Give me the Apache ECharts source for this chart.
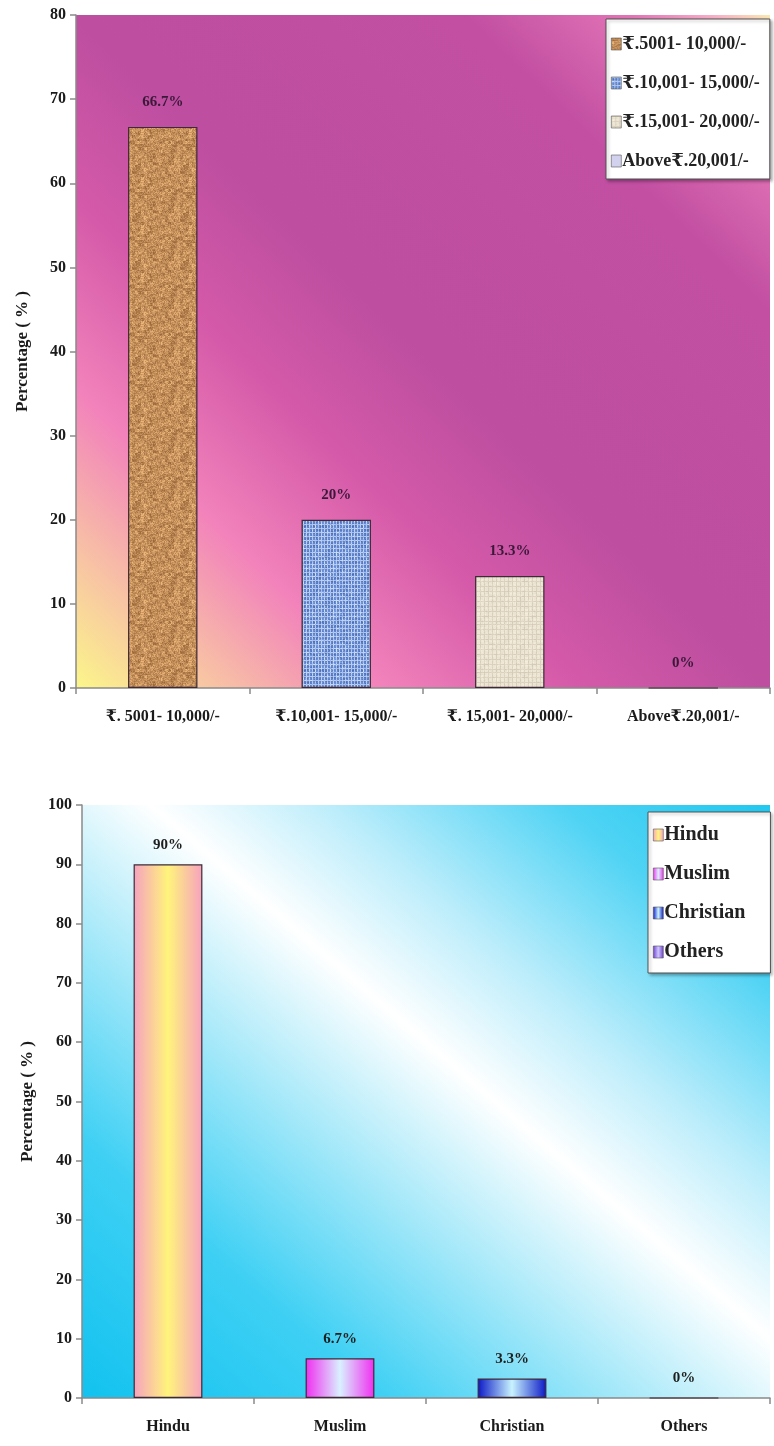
<!DOCTYPE html>
<html>
<head>
<meta charset="utf-8">
<script src="https://cdn.jsdelivr.net/npm/echarts@6/dist/echarts.min.js"></script>
<style>
  html, body { margin: 0; padding: 0; background: #ffffff; }
  #chart { width: 774px; height: 1446px; }
</style>
</head>
<body>
<div id="chart"></div>
<script>
// Monthly family income distribution
const incomeCategories = ['₹. 5001- 10,000/-', '₹.10,001- 15,000/-', '₹. 15,001- 20,000/-', 'Above₹.20,001/-'];
const incomeLegendNames = ['₹.5001- 10,000/-', '₹.10,001- 15,000/-', '₹.15,001- 20,000/-', 'Above₹.20,001/-'];
const incomeShares = [66.7, 20, 13.3, 0];

// Religion distribution
const religionCategories = ['Hindu', 'Muslim', 'Christian', 'Others'];
const religionShares = [90, 6.7, 3.3, 0];

const SERIF = "'Liberation Serif', 'DejaVu Serif', serif";

// deterministic hash used for the bar surface textures
function hash(x, y, s) {
  const v = Math.sin(x * 12.9898 + y * 78.233 + s * 37.719) * 43758.5453;
  return v - Math.floor(v);
}

function makeTexture(kind) {
  const size = 48;
  const c = document.createElement('canvas');
  c.width = size; c.height = size;
  const ctx = c.getContext('2d');
  const img = ctx.createImageData(size, size);
  for (let y = 0; y < size; y++) {
    for (let x = 0; x < size; x++) {
      let r, g, b;
      const n1 = hash(x, y, 1);
      const n2 = hash(Math.floor(x / 3), Math.floor(y / 3), 2);
      if (kind === 'granite') {
        const t = 0.55 * n1 + 0.45 * n2;
        r = 150 + t * 90; g = 100 + t * 85; b = 55 + t * 70;
      } else if (kind === 'denim') {
        const line = (x % 3 === 0) || (y % 4 === 0);
        const t = 0.6 * n1 + 0.4 * n2;
        if (line) { r = 150 + t * 60; g = 175 + t * 50; b = 225 + t * 25; }
        else { r = 72 + t * 50; g = 108 + t * 50; b = 182 + t * 45; }
      } else {
        const line = (x % 4 === 0) || (y % 5 === 0);
        const t = n1 * 0.5 + n2 * 0.5;
        if (line) { r = 208 + t * 20; g = 199 + t * 20; b = 181 + t * 20; }
        else { r = 230 + t * 16; g = 222 + t * 16; b = 204 + t * 16; }
      }
      const i = (y * size + x) * 4;
      img.data[i] = r; img.data[i + 1] = g; img.data[i + 2] = b; img.data[i + 3] = 255;
    }
  }
  ctx.putImageData(img, 0, 0);
  return c;
}

function hGrad(edge, mid) {
  return new echarts.graphic.LinearGradient(0, 0, 1, 0, [
    { offset: 0, color: edge }, { offset: 0.5, color: mid }, { offset: 1, color: edge }
  ]);
}

const incomeFills = [
  { image: makeTexture('granite'), repeat: 'repeat' },
  { image: makeTexture('denim'), repeat: 'repeat' },
  { image: makeTexture('linen'), repeat: 'repeat' },
  '#d2d2ee'
];
const religionFills = [
  hGrad('#f6a2bf', '#fff47c'),
  hGrad('#f02ef0', '#d9f1ff'),
  hGrad('#0a18c6', '#c9f3ff'),
  hGrad('#6a3ccf', '#cfc6ff')
];

const grids = [
  { left: 76, top: 15, width: 694, height: 673 },
  { left: 82, top: 805, width: 688, height: 593 }
];

// gradient whose bands run parallel to the top-left / bottom-right diagonal
function diagGradient(g, stops) {
  const W = g.width, H = g.height, L2 = W * W + H * H;
  const dx = H * H / L2, dy = W * W / L2;
  return {
    type: 'linear', x: 0.5 - dx, y: 0.5 + dy, x2: 0.5 + dx, y2: 0.5 - dy,
    colorStops: stops
  };
}

const incomeBg = diagGradient(grids[0], [
  { offset: 0, color: '#fbf68a' },
  { offset: 0.1, color: '#f8c4a4' },
  { offset: 0.22, color: '#f283bb' },
  { offset: 0.36, color: '#d55aa9' },
  { offset: 0.5, color: '#bd4ea0' },
  { offset: 0.78, color: '#c24fa2' },
  { offset: 0.9, color: '#e274b6' },
  { offset: 0.96, color: '#f6b0c6' },
  { offset: 1, color: '#fbe8b0' }
]);
const religionBg = diagGradient(grids[1], [
  { offset: 0, color: '#12c2ef' },
  { offset: 0.22, color: '#3fd0f4' },
  { offset: 0.42, color: '#b4ecfa' },
  { offset: 0.55, color: '#ffffff' },
  { offset: 0.68, color: '#bcedfb' },
  { offset: 0.85, color: '#4fd3f4' },
  { offset: 1, color: '#20c8f0' }
]);

const axisLineStyle = { color: '#8a8a8a', width: 1.5 };
const tickLabel = { fontFamily: SERIF, fontWeight: 'bold', fontSize: 16, color: '#1a1a1a' };

function barSeries(names, values, fills, axisIndex, labelColor, labelGap) {
  return names.map((name, k) => ({
    type: 'bar',
    name: name,
    xAxisIndex: axisIndex,
    yAxisIndex: axisIndex,
    barWidth: '40%',
    barGap: '-100%',
    data: values.map((v, i) => (i === k ? v : '-')),
    itemStyle: { color: fills[k], borderColor: '#3d2a36', borderWidth: 1.2 },
    label: {
      show: true, position: 'top', distance: labelGap,
      formatter: '{c}%',
      fontFamily: SERIF, fontWeight: 'bold', fontSize: 15, color: labelColor
    }
  }));
}

function legendBox(names, pos, padding, fontSize, gap) {
  return Object.assign({
    orient: 'vertical',
    data: names,
    icon: 'rect',
    itemWidth: 10,
    itemHeight: 12,
    itemGap: gap,
    backgroundColor: '#ffffff',
    borderColor: '#505050',
    borderWidth: 1,
    padding: padding,
    shadowColor: 'rgba(0,0,0,0.3)',
    shadowBlur: 3,
    shadowOffsetX: 2,
    shadowOffsetY: 2,
    itemStyle: { borderColor: '#555', borderWidth: 0.6 },
    textStyle: { fontFamily: SERIF, fontWeight: 'bold', fontSize: fontSize, color: '#222', padding: [0, 0, 0, -4] }
  }, pos);
}

const chart = echarts.init(document.getElementById('chart'), null, { renderer: 'canvas' });
chart.setOption({
  animation: false,
  backgroundColor: '#ffffff',
  grid: [
    Object.assign({ show: true, borderWidth: 0, backgroundColor: incomeBg }, grids[0]),
    Object.assign({ show: true, borderWidth: 0, backgroundColor: religionBg }, grids[1])
  ],
  legend: [
    legendBox(incomeLegendNames, { left: 606, top: 19 }, [16, 10, 9, 5], 18, 21),
    legendBox(religionCategories, { left: 648, top: 812 }, [13, 25, 11, 5], 20, 19)
  ],
  xAxis: [
    {
      type: 'category', gridIndex: 0, data: incomeCategories,
      axisLine: { lineStyle: axisLineStyle },
      axisTick: { show: true, length: 6, lineStyle: axisLineStyle },
      axisLabel: Object.assign({ margin: 21, interval: 0 }, tickLabel)
    },
    {
      type: 'category', gridIndex: 1, data: religionCategories,
      axisLine: { lineStyle: axisLineStyle },
      axisTick: { show: true, length: 6, lineStyle: axisLineStyle },
      axisLabel: Object.assign({ margin: 21, interval: 0 }, tickLabel)
    }
  ],
  yAxis: [
    {
      type: 'value', gridIndex: 0, min: 0, max: 80, interval: 10,
      name: 'Percentage ( % )', nameLocation: 'middle', nameGap: 45,
      nameTextStyle: { fontFamily: SERIF, fontWeight: 'bold', fontSize: 17, color: '#1a1a1a' },
      axisLine: { show: true, lineStyle: axisLineStyle },
      axisTick: { show: true, length: 6, lineStyle: axisLineStyle },
      axisLabel: Object.assign({ margin: 10 }, tickLabel),
      splitLine: { show: false }
    },
    {
      type: 'value', gridIndex: 1, min: 0, max: 100, interval: 10,
      name: 'Percentage ( % )', nameLocation: 'middle', nameGap: 46,
      nameTextStyle: { fontFamily: SERIF, fontWeight: 'bold', fontSize: 17, color: '#1a1a1a' },
      axisLine: { show: true, lineStyle: axisLineStyle },
      axisTick: { show: true, length: 6, lineStyle: axisLineStyle },
      axisLabel: Object.assign({ margin: 10 }, tickLabel),
      splitLine: { show: false }
    }
  ],
  series: [
    ...barSeries(incomeLegendNames, incomeShares, incomeFills, 0, '#3a1838', 17),
    ...barSeries(religionCategories, religionShares, religionFills, 1, '#1e1e1e', 12)
  ]
});
</script>
</body>
</html>
